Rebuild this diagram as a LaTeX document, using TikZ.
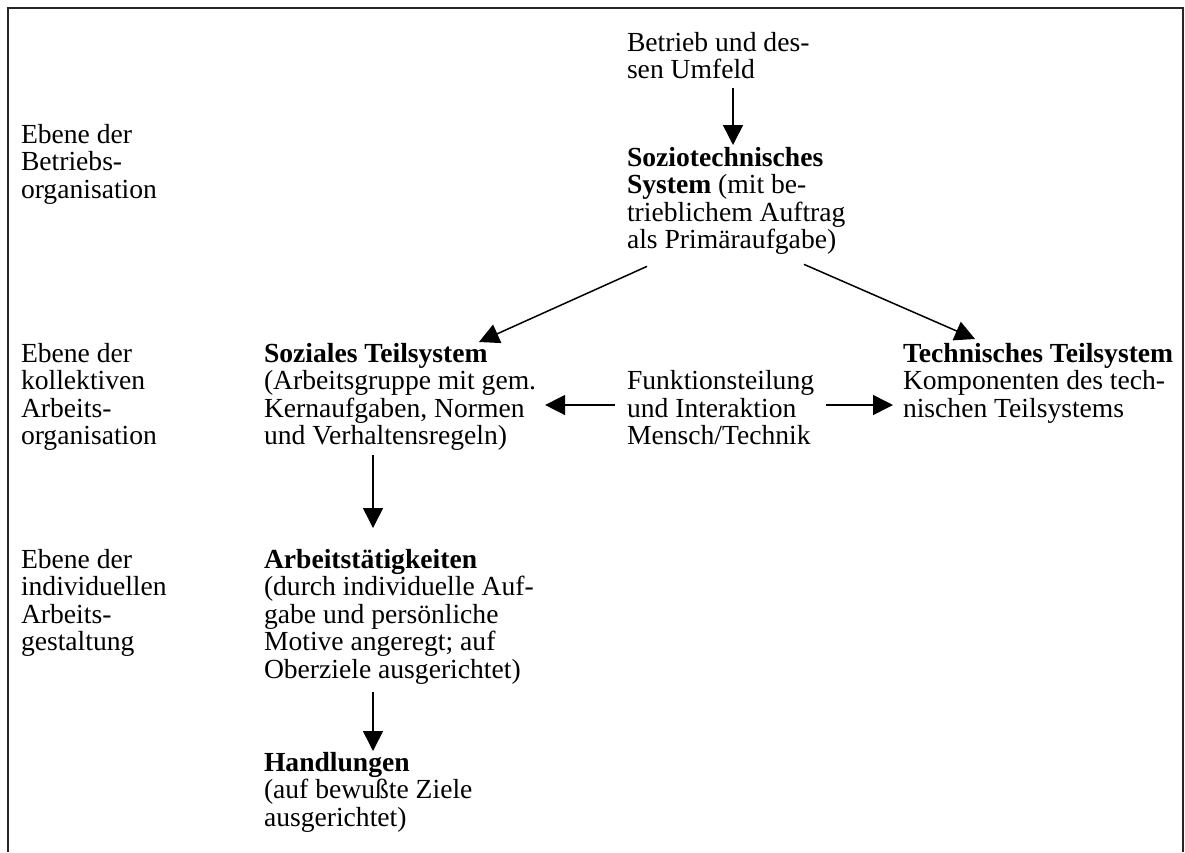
\documentclass[tikz,border=0pt]{standalone}
\usepackage{fontspec}
\setmainfont{Liberation Serif}
\usetikzlibrary{arrows.meta,calc}
\newcommand\blocksize{\fontsize{27.6}{27.5}\selectfont}
\newcommand\stackl[1]{\begin{tabular}[t]{@{}l@{}}#1\end{tabular}}
\begin{document}
\begin{tikzpicture}[x=1pt,y=-1pt,
  blk/.style={anchor=base west,inner sep=0pt,outer sep=0pt,font=\blocksize},
  arr/.style={line width=1.5pt,-{Triangle[length=20pt,width=20pt]}},
  frameline/.style={line width=1.6pt,draw=black!85}]
\useasboundingbox (0,0) rectangle (1185,852);
% open frame: top edge and both sides
\draw[frameline] (8,852) -- (8,8) -- (1183,8) -- (1183,852);

% level labels
\node[blk] (lev1) at (21,143) {\stackl{Ebene der\\Betriebs-\\organisation}};
\node[blk] (lev2) at (21,362) {\stackl{Ebene der\\kollektiven\\Arbeits-\\organisation}};
\node[blk] (lev3) at (21,568) {\stackl{Ebene der\\individuellen\\Arbeits-\\gestaltung}};

% system blocks
\node[blk] (bet) at (627,51) {\stackl{Betrieb und des-\\sen Umfeld}};
\node[blk] (sozio) at (627,166) {\stackl{\textbf{Soziotechnisches}\\\textbf{System} (mit be-\\trieblichem Auftrag\\als Primäraufgabe)}};
\node[blk] (soz) at (264,362) {\stackl{\textbf{Soziales Teilsystem}\\(Arbeitsgruppe mit gem.\\Kernaufgaben, Normen\\und Verhaltensregeln)}};
\node[blk] (funk) at (627,389.5) {\stackl{Funktionsteilung\\und Interaktion\\Mensch/Technik}};
\node[blk] (tech) at (903,362) {\stackl{\textbf{Technisches Teilsystem}\\Komponenten des tech-\\nischen Teilsystems}};
\node[blk] (arb) at (264,568) {\stackl{\textbf{Arbeitstätigkeiten}\\(durch individuelle Auf-\\gabe und persönliche\\Motive angeregt; auf\\Oberziele ausgerichtet)}};
\node[blk] (hand) at (264,771) {\stackl{\textbf{Handlungen}\\(auf bewußte Ziele\\ausgerichtet)}};

% connectors
\draw[arr] ($(bet.south west)+(106,1.25)$) -- ($(sozio.north west)+(106,-1.75)$);
\draw[arr] ($(sozio.south west)+(20,9.25)$) -- ($(soz.north west)+(215,-0.75)$);
\draw[arr] ($(sozio.south west)+(177,7.25)$) -- ($(tech.north west)+(72,-3.75)$);
\coordinate (fl) at ($(funk.west)+(-12,-6.5)$);
\coordinate (fr) at ($(funk.east)+(12,-6.5)$);
\draw[arr] (fl) -- ($(soz.east |- fl)+(9,0)$);
\draw[arr] (fr) -- ($(tech.west |- fr)+(-10,0)$);
\draw[arr] ($(soz.south west)+(109,2.25)$) -- ($(arb.north west)+(109,-20.75)$);
\draw[arr] ($(arb.south west)+(109,5.75)$) -- ($(hand.north west)+(109,-0.75)$);
\end{tikzpicture}
\end{document}
